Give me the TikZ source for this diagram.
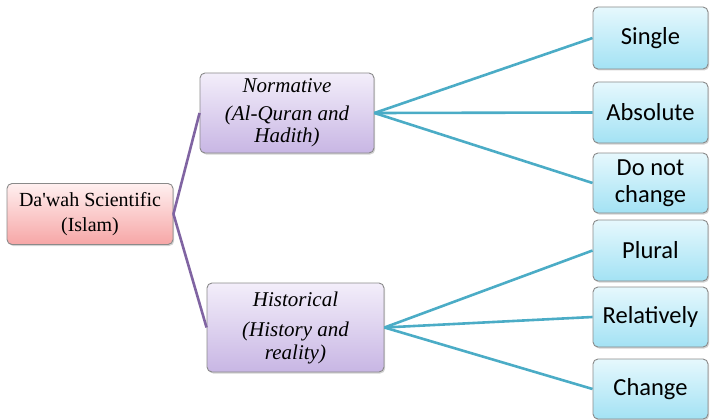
\documentclass[tikz,border=0pt]{standalone}
\usepackage{fontspec}
\newfontfamily\serifbox{Liberation Serif}
\newfontfamily\calibrifont{Carlito}
\usetikzlibrary{shadows}
\definecolor{teal1}{HTML}{4BACC6}
\definecolor{purp1}{HTML}{8064A2}
\definecolor{bordg}{HTML}{8A8A8A}
\tikzset{
  box/.style={draw=bordg, line width=0.9pt, rounded corners=5pt, align=center, inner sep=2pt,
    drop shadow={opacity=0.35, shadow xshift=1.2pt, shadow yshift=-1.5pt}},
  rootbox/.style={box, top color=red!6, bottom color={rgb,255:red,246;green,166;blue,166},
    font=\serifbox\fontsize{20}{25}\selectfont},
  midbox/.style={box, top color={rgb,255:red,243;green,238;blue,250}, bottom color={rgb,255:red,200;green,182;blue,228},
    font=\serifbox\itshape\fontsize{21}{22.5}\selectfont},
  leafbox/.style={box, top color={rgb,255:red,230;green,248;blue,253}, bottom color={rgb,255:red,163;green,226;blue,244},
    minimum width=115pt, font=\calibrifont\fontsize{24.5}{27}\selectfont},
  tealline/.style={draw=teal1, line width=2.6pt},
  purpline/.style={draw=purp1, line width=2.6pt},
}
\begin{document}
\begin{tikzpicture}[x=1pt,y=-1pt]
\useasboundingbox (0,0) rectangle (710,420);
\node[rootbox, minimum width=166pt, minimum height=61pt] (root) at (90,214) {Da\textquotesingle wah Scientific\\(Islam)};
\node[midbox, minimum width=174pt, minimum height=80pt] (norm) at (287,113) {\raisebox{-3pt}{Normative}\\[8pt](Al-Quran and\\Hadith)};
\node[midbox, minimum width=177pt, minimum height=89pt] (hist) at (295.5,327.5) {Historical\\[8pt](History and\\reality)};
\node[leafbox, minimum height=62pt] (single) at (650.5,38) {Single};
\node[leafbox, minimum height=61pt] (abs) at (650.5,112.5) {Absolute};
\node[leafbox, minimum height=60pt] (dnc) at (650.5,183) {Do not\\change};
\node[leafbox, minimum height=61pt] (plural) at (650.5,250.5) {Plural};
\node[leafbox, minimum height=60pt] (rel) at (650.5,317) {Relatively};
\node[leafbox, minimum height=60pt] (change) at (650.5,389) {Change};
\draw[purpline] (root.east) -- (norm.west);
\draw[purpline] (root.east) -- (hist.west);
\draw[tealline] (norm.east) -- (single.west);
\draw[tealline] (norm.east) -- (abs.west);
\draw[tealline] (norm.east) -- (dnc.west);
\draw[tealline] (hist.east) -- (plural.west);
\draw[tealline] (hist.east) -- (rel.west);
\draw[tealline] (hist.east) -- (change.west);
\end{tikzpicture}
\end{document}
